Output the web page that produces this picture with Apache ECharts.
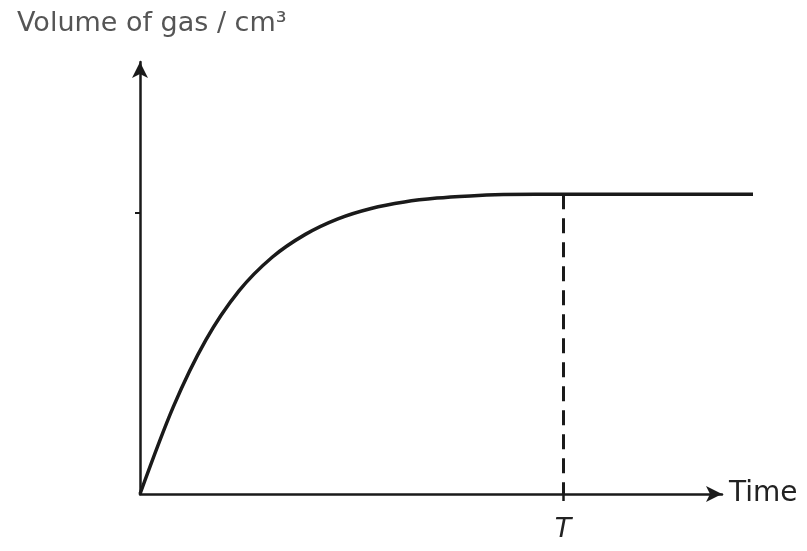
<!DOCTYPE html>
<html>
<head>
<meta charset="utf-8">
<script src="https://cdn.jsdelivr.net/npm/echarts@6/dist/echarts.min.js"></script>
<style>html,body{margin:0;padding:0;background:#fff;}#c{width:807px;height:551px;}</style>
</head>
<body>
<div id="c"></div>
<script>
// Time (arbitrary units) and volume of gas (arbitrary units)
var timeValues   = [0, 5.7, 11.3, 17.0, 22.7, 28.4, 34.0, 39.7, 45.4, 51.0, 56.7, 62.4, 68.0, 72.7, 105.3];
var volumeValues = [0, 20.1, 35.6, 47.0, 54.8, 60.1, 63.7, 66.1, 67.6, 68.5, 69.0, 69.3, 69.4, 69.4, 69.4];
var T_VALUE = 72.7;          // time T marked on the x axis
var PLATEAU = 69.4;          // final volume
var Y_TICK = 65;             // small tick on the volume axis
var X_AXIS_MAX = 100;        // end of drawn time axis (arrow)
var X_DATA_MAX = 105.3;      // curve continues a little past the arrow
var xLabels = ['T'];

var curve = timeValues.map(function (t, i) { return [t, volumeValues[i]]; });

var chart = echarts.init(document.getElementById('c'), null, {renderer: 'canvas'});
chart.setOption({
  animation: false,
  backgroundColor: '#ffffff',
  title: {
    text: 'Volume of gas / cm\u00B3',
    left: 12, top: 5,
    textStyle: {fontFamily: 'DejaVu Sans', fontSize: 27, fontWeight: 'normal', color: '#555'}
  },
  grid: [
    {left: 140, right: 85, top: 62, bottom: 57, containLabel: false},
    {left: 140, right: 54, top: 62, bottom: 57, containLabel: false}
  ],
  xAxis: [{
    gridIndex: 0, type: 'value', min: 0, max: X_AXIS_MAX,
    name: 'Time', nameLocation: 'end', nameGap: 7,
    nameTextStyle: {fontFamily: 'DejaVu Sans', fontSize: 28, color: '#222', verticalAlign: 'middle'},
    axisLine: {show: true, symbol: ['none', 'arrow'], symbolSize: [12, 16], lineStyle: {color: '#1a1a1a', width: 2.5}},
    axisTick: {show: true, length: 7, customValues: [T_VALUE], lineStyle: {color: '#1a1a1a', width: 2.5}},
    axisLabel: {show: true, customValues: [T_VALUE], margin: 22,
      formatter: function () { return xLabels[0]; },
      fontFamily: 'DejaVu Sans', fontStyle: 'italic', fontSize: 27, color: '#222'},
    splitLine: {show: false}
  }, {
    gridIndex: 1, type: 'value', min: 0, max: X_DATA_MAX, show: false
  }],
  yAxis: [{
    gridIndex: 0, type: 'value', min: 0, max: 100,
    axisLine: {show: true, symbol: ['none', 'arrow'], symbolSize: [12, 16], lineStyle: {color: '#1a1a1a', width: 2.5}},
    axisTick: {show: true, length: 5, customValues: [Y_TICK], lineStyle: {color: '#1a1a1a', width: 2}},
    axisLabel: {show: false},
    splitLine: {show: false}
  }, {
    gridIndex: 1, type: 'value', min: 0, max: 100, show: false
  }],
  series: [{
    type: 'line',
    xAxisIndex: 1, yAxisIndex: 1,
    data: curve,
    smooth: 0.3,
    showSymbol: false,
    lineStyle: {color: '#1a1a1a', width: 3.5},
    markLine: {
      silent: true,
      symbol: 'none',
      label: {show: false},
      lineStyle: {color: '#1a1a1a', width: 3, type: [15, 9]},
      data: [[{coord: [T_VALUE, PLATEAU]}, {coord: [T_VALUE, 0]}]]
    }
  }]
});
</script>
</body>
</html>
